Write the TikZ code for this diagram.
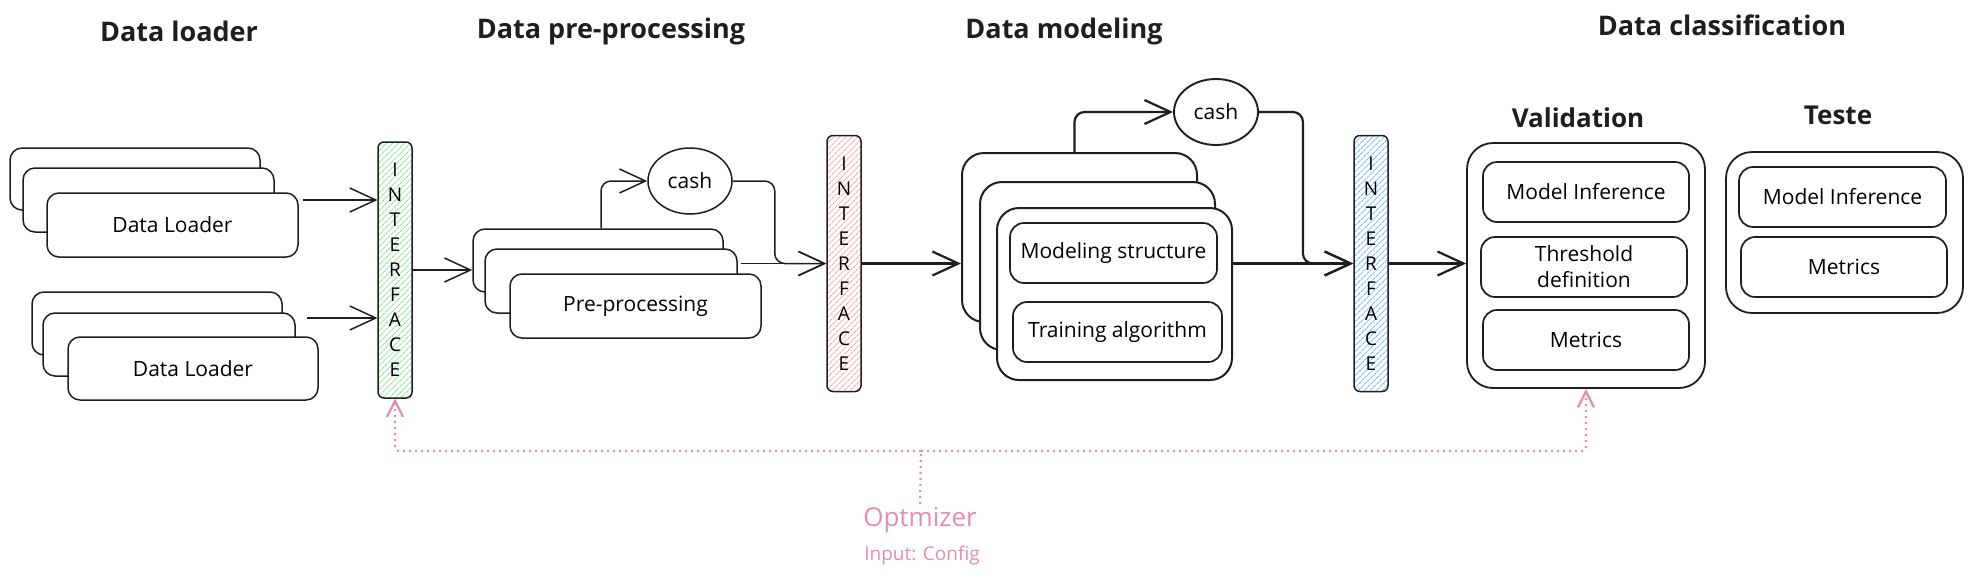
\documentclass[tikz,border=0pt]{standalone}
\usepackage{fontspec}
\setmainfont{Open Sans}
\usetikzlibrary{arrows.meta,patterns.meta,calc,shapes.geometric}
\definecolor{ink}{HTML}{1E1E1E}
\definecolor{hgreen}{HTML}{8CE99A}
\definecolor{hred}{HTML}{FFA8A8}
\definecolor{hblue}{HTML}{74C0FC}
\definecolor{pinkc}{HTML}{E48DB0}
\tikzset{
  box/.style={draw=ink, fill=white, rounded corners=12pt, line width=1.5pt,
    font=\fontsize{21}{26}\selectfont, inner sep=0pt, align=center},
  bigbox/.style={box, rounded corners=22pt, line width=2pt},
  inbox/.style={box, rounded corners=14pt, line width=1.7pt},
  iface/.style={draw=ink, rounded corners=6pt, line width=1.5pt, minimum width=34pt,
    minimum height=256pt, font=\fontsize{19}{25}\selectfont, align=center, inner sep=0pt},
  cashn/.style={draw=ink, fill=white, ellipse, minimum width=84pt, minimum height=66pt,
    inner sep=0pt, line width=1.5pt, font=\fontsize{21}{26}\selectfont},
  arr/.style={draw=ink, line width=1.5pt, -{Straight Barb[length=26pt,width=24pt]}},
  thickarr/.style={arr, line width=2.2pt},
  title/.style={font=\fontsize{27}{30}\selectfont\bfseries, text=ink},
  subtitle/.style={font=\fontsize{26}{30}\selectfont\bfseries, text=ink},
  pinkline/.style={draw=pinkc, line width=2.2pt, dash pattern=on 2pt off 4pt, rounded corners=4pt},
  pinkarr/.style={pinkline, -{Straight Barb[length=16pt,width=16pt]}},
}
\begin{document}
\begin{tikzpicture}[x=1pt,y=-1pt]
\useasboundingbox (0,0) rectangle (1975,579);

% titles
\node[title] (t1) at (179,31) {Data loader};
\node[title] (t2) at (611,31) {Data pre-processing};
\node[title] (t3) at (1064,31) {Data modeling};
\node[title] (t4) at (1722,25) {Data classification};

% data loader stacks
\node[box, minimum width=250pt, minimum height=62pt] (dl1c) at (135,179) {};
\node[box, minimum width=251pt, minimum height=64pt] (dl1b) at (148.5,200) {};
\node[box, minimum width=251pt, minimum height=64pt] (dl1a) at (172.5,225) {Data Loader};
\node[box, minimum width=250pt, minimum height=63pt] (dl2c) at (157,323.5) {};
\node[box, minimum width=252pt, minimum height=63pt] (dl2b) at (169,344.5) {};
\node[box, minimum width=250pt, minimum height=63pt] (dl2a) at (193,368.5) {Data Loader};

% interfaces
\node[iface, pattern={Lines[angle=45,distance=4pt,line width=0.9pt]}, pattern color=hgreen] (gi) at (395,270) {I\\N\\T\\E\\R\\F\\A\\C\\E};
\node[iface, pattern={Lines[angle=45,distance=4pt,line width=0.9pt]}, pattern color=hred] (ri) at (844,263.5) {I\\N\\T\\E\\R\\F\\A\\C\\E};
\node[iface, pattern={Lines[angle=45,distance=4pt,line width=0.9pt]}, pattern color=hblue] (bi) at (1371,263.5) {I\\N\\T\\E\\R\\F\\A\\C\\E};

\draw[arr] ([xshift=4pt]dl1a.east |- dl1b.east) -- (gi.west |- dl1b.east);
\draw[arr] ([xshift=11pt,yshift=5.5pt]dl2b.east |- dl2c.east) -- ([yshift=5.5pt]gi.west |- dl2c.east);

% pre-processing
\node[box, minimum width=250pt, minimum height=63pt] (ppc) at (598,260.5) {};
\node[box, minimum width=252pt, minimum height=64pt] (ppb) at (611,281) {};
\node[box, minimum width=251pt, minimum height=64pt] (ppa) at (635.5,306) {Pre-processing};
\node[cashn] (cash1) at (690,181) {cash};

\draw[arr] (gi.east) -- (ppc.west |- gi.east);
\draw[arr, rounded corners=10pt] ([xshift=3pt]ppc.north) |- (cash1.west);
\draw[arr, rounded corners=10pt] (cash1.east) -- ++(42,0) |- (ri.west);
\draw[arr] ([xshift=3pt]ppb.east |- ri.west) -- (ri.west);

% modeling
\node[bigbox, minimum width=235pt, minimum height=169pt] (mdc) at (1079.5,237.5) {};
\node[bigbox, minimum width=235pt, minimum height=168pt] (mdb) at (1097.5,266) {};
\node[bigbox, minimum width=235pt, minimum height=172pt] (mda) at (1114.5,294) {};
\node[inbox, minimum width=207pt, minimum height=60pt] (ms) at (1113.5,253) {Modeling structure};
\node[inbox, minimum width=209pt, minimum height=60pt] (ta) at (1117.5,332) {Training algorithm};
\node[cashn, line width=1.9pt] (cash2) at (1216,112) {cash};

\draw[thickarr] (ri.east) -- (mdc.west |- ri.east);
\draw[thickarr, rounded corners=10pt] ([xshift=-5pt]mdc.north) |- (cash2.west);
\draw[thickarr, rounded corners=10pt] (cash2.east) -- ++(44,0) |- (bi.west);
\draw[thickarr] (mda.east |- bi.west) -- (bi.west);

% classification
\node[subtitle] (tv) at (1578,118) {Validation};
\node[subtitle] (tt) at (1838,115) {Teste};
\node[bigbox, line width=1.8pt, rounded corners=26pt, minimum width=238pt, minimum height=245pt] (val) at (1586,265.5) {};
\node[inbox, minimum width=206pt, minimum height=60pt] (vmi) at (1586,192) {Model Inference};
\node[inbox, minimum width=206pt, minimum height=60pt] (vth) at (1584,267) {Threshold\\definition};
\node[inbox, minimum width=206pt, minimum height=60pt] (vme) at (1586,340) {Metrics};
\node[bigbox, line width=1.8pt, rounded corners=26pt, minimum width=237pt, minimum height=161pt] (tst) at (1844.5,232.5) {};
\node[inbox, minimum width=207pt, minimum height=60pt] (tmi) at (1842.5,197) {Model Inference};
\node[inbox, minimum width=206pt, minimum height=60pt] (tme) at (1844,267) {Metrics};

\draw[thickarr] (bi.east) -- (val.west |- bi.east);

% optimizer
\node[font=\fontsize{26}{30}\selectfont, text=pinkc] (opt) at (920,520) {Optmizer};
\node[font=\fontsize{19}{22}\selectfont, text=pinkc] (inp) at (922,556) {Input: Config};
\coordinate (j) at (921,451);
\draw[pinkline] (opt.north) -- (j);
\draw[pinkarr] (j) -| (gi.south);
\draw[pinkarr] (j) -| (val.south);
\end{tikzpicture}
\end{document}
